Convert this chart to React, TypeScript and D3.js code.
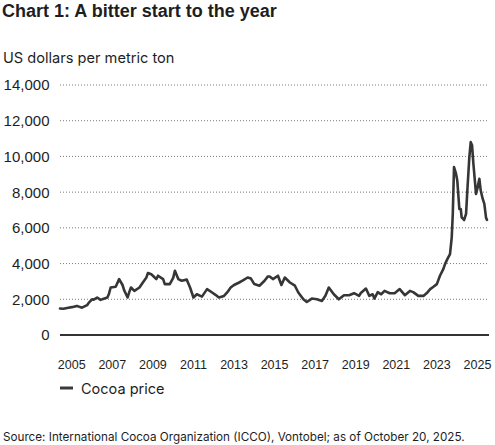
import React from 'react';
import * as d3 from 'd3';

const dates: string[] = [
  '2004-10-01','2004-12-01','2005-03-01','2005-05-01','2005-08-01','2005-11-01',
  '2006-02-01','2006-03-01','2006-05-01','2006-06-01','2006-08-01','2006-10-01','2006-11-01',
  '2007-02-01','2007-03-01','2007-04-01','2007-07-01','2007-09-01','2007-11-01','2007-12-01',
  '2008-02-01','2008-03-01','2008-04-01','2008-06-01','2008-09-01','2008-11-01',
  '2009-01-01','2009-02-01','2009-04-01','2009-05-01','2009-07-01','2009-08-01','2009-11-01','2009-12-01',
  '2010-03-01','2010-05-01','2010-06-01','2010-08-01','2010-10-01',
  '2011-01-01','2011-03-01','2011-05-01','2011-07-01','2011-10-01',
  '2012-01-01','2012-04-01','2012-06-01','2012-08-01','2012-11-01',
  '2013-01-01','2013-03-01','2013-05-01','2013-08-01','2013-10-01',
  '2014-01-01','2014-03-01','2014-05-01','2014-08-01','2014-11-01',
  '2015-01-01','2015-02-01','2015-04-01','2015-07-01','2015-09-01','2015-11-01',
  '2016-02-01','2016-05-01','2016-07-01','2016-10-01','2016-12-01',
  '2017-03-01','2017-06-01','2017-09-01','2017-11-01',
  '2018-01-01','2018-04-01','2018-07-01','2018-10-01',
  '2019-01-01','2019-04-01','2019-07-01','2019-08-01','2019-11-01',
  '2020-01-01','2020-03-01','2020-04-01','2020-06-01','2020-08-01','2020-10-01',
  '2021-01-01','2021-04-01','2021-07-01','2021-10-01',
  '2022-01-01','2022-03-01','2022-06-01','2022-09-01','2022-11-01',
  '2023-01-01','2023-03-01','2023-05-01','2023-06-26','2023-08-25','2023-09-25','2023-11-06','2023-12-24',
  '2024-01-24','2024-02-12','2024-03-05','2024-04-10','2024-05-03','2024-06-09','2024-07-04','2024-07-21',
  '2024-09-02','2024-10-08','2024-10-31','2024-12-06','2024-12-31',
  '2025-01-24','2025-02-17','2025-04-05','2025-04-28','2025-06-04','2025-06-29','2025-08-04','2025-09-02',
  '2025-10-03','2025-10-20',
];

const cocoaPrice: number[] = [
  1480, 1470, 1530, 1560, 1630, 1530,
  1670, 1800, 2000, 1980, 2100, 1970, 2000,
  2100, 2300, 2660, 2700, 3130, 2800, 2500,
  2100, 2400, 2660, 2470, 2660, 2940,
  3200, 3470, 3400, 3320, 3130, 3320, 3130, 2850,
  2850, 3200, 3600, 3130, 3040,
  3100, 2660, 2100, 2280, 2150,
  2570, 2380, 2250, 2100, 2190,
  2400, 2660, 2800, 2940, 3040,
  3220, 3160, 2850, 2760, 3040,
  3280, 3280, 3130, 3320, 2800, 3220,
  2940, 2760, 2380, 2000, 1850,
  2040, 2000, 1910, 2200,
  2660, 2280, 2000, 2230,
  2230, 2340, 2190, 2350, 2600,
  2190, 2280, 2040, 2400, 2280, 2470,
  2340, 2340, 2570, 2230,
  2470, 2400, 2190, 2190, 2350,
  2570, 2700, 2850, 3320, 3690, 3970, 4250, 4530,
  5470, 6780, 9400, 9030, 8650, 7060, 7060, 6590,
  6440, 6780, 8090, 9960, 10800,
  10620, 9590, 7900, 8180, 8750, 8090, 7620, 7340,
  6560, 6450,
];

const yTicks: number[] = [0, 2000, 4000, 6000, 8000, 10000, 12000, 14000];
const xTickYears: number[] = [2005, 2007, 2009, 2011, 2013, 2015, 2017, 2019, 2021, 2023, 2025];

const titleText = 'Chart 1: A bitter start to the year';
const unitText = 'US dollars per metric ton';
const seriesName = 'Cocoa price';
const sourceText = 'Source: International Cocoa Organization (ICCO), Vontobel; as of October 20, 2025.';

const FONT = '"Liberation Sans", Arial, sans-serif';
const FONT_TEXT = 'Inter, "Liberation Sans", Arial, sans-serif';
const INK = '#1e1e1e';
const LINE = '#363636';

export default function App() {
  const parse = d3.timeParse('%Y-%m-%d');
  const data = dates.map((d, i) => ({ date: parse(d) as Date, value: cocoaPrice[i] }));

  const x = d3
    .scaleTime()
    .domain([parse('2004-10-01') as Date, parse('2025-10-20') as Date])
    .range([60, 487]);
  const y = d3.scaleLinear().domain([0, 14000]).range([335, 85]);

  const gridX0 = 60;
  const gridX1 = 489;

  const line = d3
    .line<{ date: Date; value: number }>()
    .x((d) => x(d.date))
    .y((d) => y(d.value));

  const fmt = d3.format(',');

  return (
    <svg
      width={495}
      height={445}
      viewBox="0 0 495 445"
      style={{ position: 'absolute', left: 0, top: 0, background: '#fff' }}
      fontFamily={FONT}
    >
      <rect x={0} y={0} width={495} height={445} fill="#fff" />
      <text x={2} y={17} fontSize={18} fontWeight="bold" fill={INK}>
        {titleText}
      </text>
      <text x={3} y={62.5} fontSize={14.6} fontFamily={FONT_TEXT} fill={INK}>
        {unitText}
      </text>

      {yTicks.map((v) => (
        <g key={v}>
          {v > 0 && (
            <line
              x1={gridX0}
              x2={gridX1}
              y1={y(v)}
              y2={y(v)}
              stroke="#7a7a7a"
              strokeWidth={1}
              strokeDasharray="1,2"
            />
          )}
          <text x={49.5} y={y(v) + 5.4} fontSize={15} textAnchor="end" fill={INK}>
            {fmt(v)}
          </text>
        </g>
      ))}

      <line x1={gridX0} x2={gridX1} y1={y(0)} y2={y(0)} stroke="#333" strokeWidth={2} />

      <path
        d={line(data) || ''}
        fill="none"
        stroke={LINE}
        strokeWidth={2.6}
        strokeLinejoin="round"
        strokeLinecap="round"
      />

      {xTickYears.map((yr) => (
        <text
          key={yr}
          x={x(new Date(yr, 4, 1))}
          y={368.5}
          fontSize={12.5}
          textAnchor="middle"
          fill={INK}
        >
          {yr}
        </text>
      ))}

      <line x1={60} x2={73} y1={388} y2={388} stroke="#3a3a3a" strokeWidth={3} />
      <text x={81} y={393.5} fontSize={14.5} fontFamily={FONT_TEXT} fill={INK}>
        {seriesName}
      </text>

      <text x={3} y={440.5} fontSize={11.7} fontFamily={FONT_TEXT} fill={INK}>
        {sourceText}
      </text>
    </svg>
  );
}
